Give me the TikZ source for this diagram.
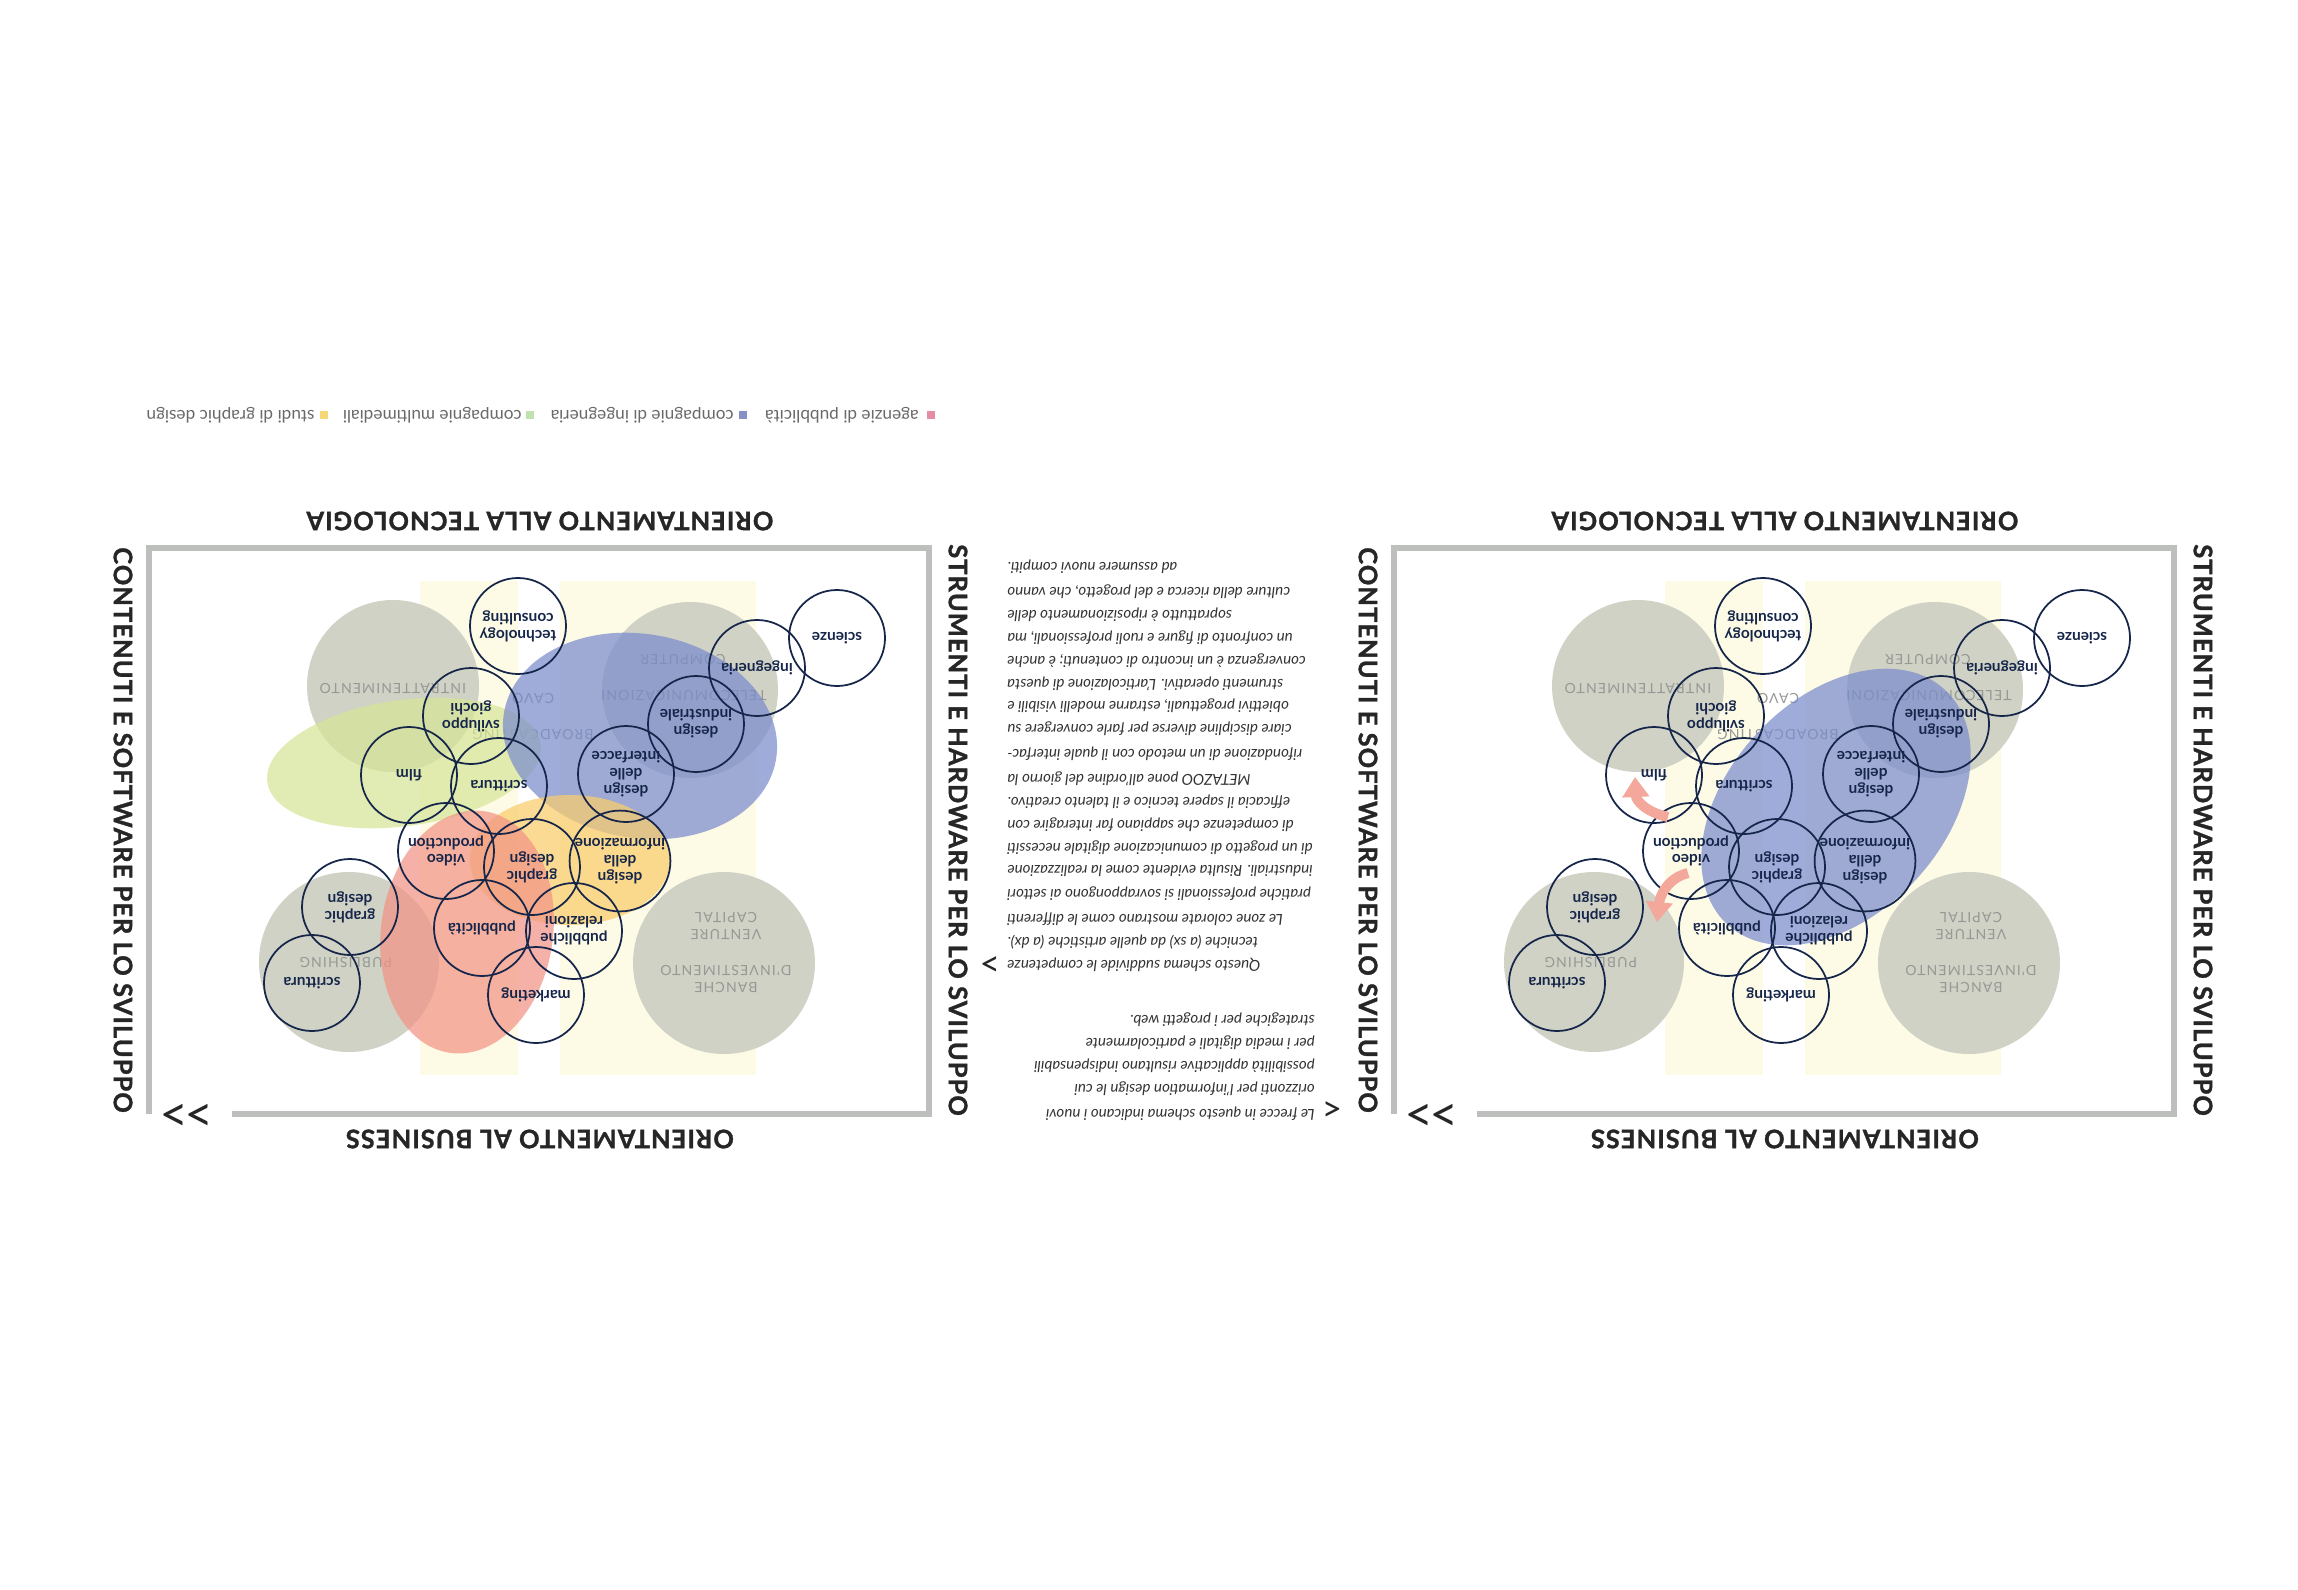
\documentclass[tikz,border=0pt]{standalone}
\usepackage{fontspec}
\setmainfont{Lato}
\newfontfamily\labfont{Lato}[LetterSpace=4, FakeBold=1.2]
\newfontfamily\zonefont{Lato}[LetterSpace=8]
\usetikzlibrary{arrows.meta, calc}
\definecolor{framegray}{RGB}{188,191,188}
\definecolor{zonegray}{RGB}{208,210,197}
\definecolor{zonetext}{RGB}{150,153,150}
\definecolor{bandyellow}{RGB}{253,251,230}
\definecolor{navy}{RGB}{22,38,74}
\definecolor{engblue}{RGB}{122,140,204}
\definecolor{mmgreen}{RGB}{214,229,152}
\definecolor{gdyellow}{RGB}{250,205,108}
\definecolor{adpink}{RGB}{242,148,134}
\definecolor{arrowpink}{RGB}{244,168,156}
\definecolor{legendgray}{RGB}{105,105,105}
\definecolor{sqpink}{RGB}{232,140,165}
\definecolor{sqblue}{RGB}{135,145,195}
\definecolor{sqgreen}{RGB}{195,225,175}
\definecolor{sqyellow}{RGB}{245,215,120}

\begin{document}
\begin{tikzpicture}[x=0.2mm, y=-0.2mm,
    bubble/.style={circle, draw=navy, line width=0.35mm, minimum size=19.2mm, inner sep=0pt, align=center, rotate=180, text=navy, font=\fontsize{8.8}{9.6}\selectfont\bfseries},
    zone/.style={rotate=180, align=center, text=zonetext, font=\zonefont\fontsize{8}{10}\selectfont},
    axislabel/.style={text=black!85, inner sep=0pt, font=\labfont\bfseries\fontsize{14.5}{16}\selectfont},
    chevron/.style={rotate=180, inner sep=0pt, text=black!85, font=\fontsize{28}{28}\selectfont},
    legsq/.style={minimum size=1.6mm, inner sep=0pt},
    legendtext/.style={rotate=180, anchor=west, inner sep=0pt, text=legendgray, font=\fontsize{9.8}{11}\selectfont},
    paraline/.style={rotate=180, inner sep=0pt, text=black!80, font=\fontsize{8.6}{10}\selectfont\itshape},
    fatarrow/.style={draw=arrowpink, line width=2mm, -{Triangle[width=5.2mm, length=4mm]}},
    blob/.style={opacity=0.72}
  ]
  \fill[white] (0,0) rectangle (2298,1590);
  \useasboundingbox (0,0) rectangle (2298,1590);

  % fondo dei due schemi
  \foreach \p/\dx in {L/0, R/1245} {
    \begin{scope}[shift={(\dx,0)}]
      \fill[bandyellow] (420,581) rectangle (518,1075);
      \fill[bandyellow] (560,581) rectangle (756,1075);
      \fill[zonegray] (393,686) circle (86);
      \fill[zonegray] (690,690) circle (88);
      \fill[zonegray] (349,962) circle (90);
      \fill[zonegray] (724,963) circle (91);
      \node[zone] (\p-intr) at (393,689) {INTRATTENIMENTO};
      \node[zone] (\p-cavo) at (533,699) {CAVO};
      \node[zone] (\p-broad) at (533,735) {BROADCASTING};
      \node[zone] (\p-comp) at (683,660) {COMPUTER};
      \node[zone] (\p-tele) at (684,696) {TELECOMUNICAZIONI};
      \node[zone] (\p-publ) at (346,963) {PUBLISHING};
      \node[zone] (\p-vent) at (726,926) {VENTURE\\CAPITAL};
      \node[zone] (\p-banc) at (726,979) {BANCHE\\D'INVESTIMENTO};
      % cornice e assi
      \draw[framegray, line width=1.3mm] (232,1114) -- (929,1114) -- (929,548) -- (149,548) -- (149,1114);
      \node[axislabel, rotate=180] (\p-tec) at (540,521) {ORIENTAMENTO ALLA TECNOLOGIA};
      \node[axislabel, rotate=180] (\p-bus) at (540,1139) {ORIENTAMENTO AL BUSINESS};
      \node[axislabel, rotate=-90] (\p-cont) at (123,830) {CONTENUTI E SOFTWARE PER LO SVILUPPO};
      \node[axislabel, rotate=-90] (\p-strum) at (958,830) {STRUMENTI E HARDWARE PER LO SVILUPPO};
      \node[chevron] (\p-next) at (187,1112) {>\kern-2pt>};
    \end{scope}
  }

  % zone colorate (schema di sinistra)
  \fill[mmgreen, blob, rotate around={8:(404,763)}] (404,763) ellipse [x radius=138, y radius=63];
  \fill[engblue, blob, rotate around={-10:(640,736)}] (640,736) ellipse [x radius=138, y radius=102];
  \fill[gdyellow, blob] (570,860) ellipse [x radius=100, y radius=65];
  \fill[adpink, blob, rotate around={-8:(467,932)}] (467,932) ellipse [x radius=86, y radius=122];
  % schema di destra
  \fill[engblue, blob, rotate around={47:(1836,807)}] (1836,807) ellipse [x radius=160, y radius=108];

  % competenze
  \foreach \p/\dx in {L/0, R/1245} {
    \begin{scope}[shift={(\dx,0)}]
      \foreach \n/\cx/\cy/\txt in {
          tech/518/626/{technology\\consulting},
          scienze/837/638/{scienze},
          ingegneria/757/668/{ingegneria},
          giochi/471/716/{sviluppo\\giochi},
          industriale/696/724/{design\\industriale},
          film/409/775/{film},
          scrittura/499/786/{scrittura},
          interfacce/626/774/{design\\delle\\interfacce},
          video/446/851/{video\\production},
          graphic/532/867/{graphic\\design},
          informazione/620/861/{design\\della\\informazione},
          graphicb/350/907/{graphic\\design},
          pubblicita/482/928/{pubblicità},
          relazioni/574/931/{pubbliche\\relazioni},
          marketing/536/995/{marketing},
          scritturab/312/983/{scrittura}}
        \node[bubble] (\p-\n) at (\cx,\cy) {\txt};
    \end{scope}
  }

  % frecce
  \draw[fatarrow] ($(R-video)+(-23,-34)$) .. controls ($(R-video)+(-46,-39)$) and ($(R-film)+(-18,25)$) .. ($(R-film)+(-19,2)$);
  \draw[fatarrow] ($(R-video)+(-3,22)$) .. controls ($(R-video)+(-23,27)$) and ($(R-video)+(-31,44)$) .. ($(R-video)+(-34,71)$);

  % legenda
  \node[legsq, fill=sqpink] (sq-agenzie) at (931,415) {};
  \node[legendtext] (lg-agenzie) at (919,415) {agenzie di pubblicità};
  \node[legsq, fill=sqblue] (sq-ingegneria) at (743,415) {};
  \node[legendtext] (lg-ingegneria) at (734,415) {compagnie di ingegneria};
  \node[legsq, fill=sqgreen] (sq-multimedia) at (530,415) {};
  \node[legendtext] (lg-multimedia) at (522,415) {compagnie multimediali};
  \node[legsq, fill=sqyellow] (sq-studi) at (324,415) {};
  \node[legendtext] (lg-studi) at (315,415) {studi di graphic design};

  % testo centrale
  \foreach \yy/\txt [count=\i] in {
      1114/{Le frecce in questo schema indicano i nuovi},
      1089/{orizzonti per l'information design le cui},
      1066/{possibilità applicative risultano indispensabili},
      1043/{per i media digitali e particolarmente},
      1020/{strategiche per i progetti web.}}
    \node[paraline, anchor=west] (pa\i) at (1315,\yy) {\txt};
  \foreach \yy/\txt [count=\i] in {
      965/{Questo schema suddivide le competenze},
      942/{tecniche (a sx) da quelle artistiche (a dx).},
      919/{Le zone colorate mostrano come le differenti},
      894/{pratiche professionali si sovrappongono ai settori},
      871/{industriali. Risulta evidente come la realizzazione},
      848/{di un progetto di comunicazione digitale necessiti},
      825/{di competenze che sappiano far interagire con},
      802/{efficacia il sapere tecnico e il talento creativo.},
      779/{METAZOO pone all'ordine del giorno la},
      754/{rifondazione di un metodo con il quale interfac-},
      729/{ciare discipline diverse per farle convergere su},
      706/{obiettivi progettuali, estrarne modelli visibili e},
      684/{strumenti operativi. L'articolazione di questa},
      661/{convergenza è un incontro di contenuti; è anche},
      638/{un confronto di figure e ruoli professionali, ma},
      615/{soprattutto è riposizionamento delle},
      592/{culture della ricerca e del progetto, che vanno},
      567/{ad assumere nuovi compiti.}}
    \node[paraline, anchor=east] (pb\i) at (1007,\yy) {\txt};
  \node[chevron, font=\fontsize{20}{20}\selectfont] (mk-schema) at (990,962) {>};
  \node[chevron, font=\fontsize{20}{20}\selectfont] (mk-frecce) at (1332,1107) {<};
\end{tikzpicture}
\end{document}
